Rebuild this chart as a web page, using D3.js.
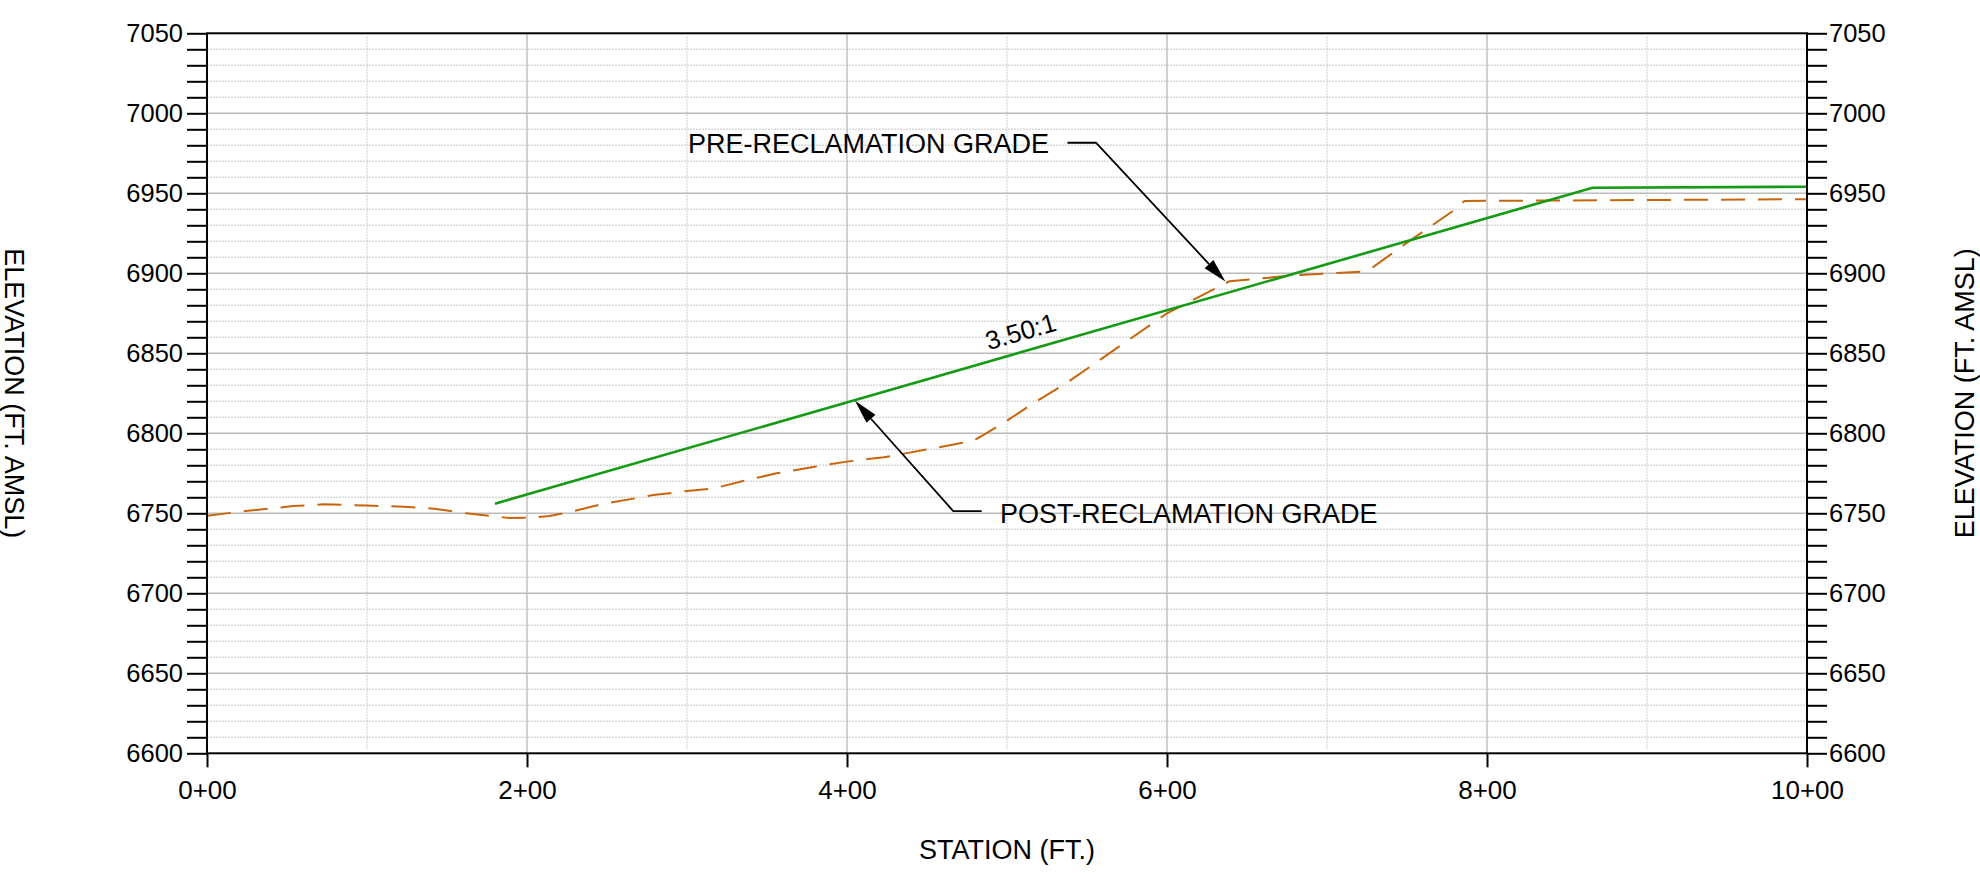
<!DOCTYPE html>
<html><head><meta charset="utf-8">
<script src="https://cdn.jsdelivr.net/npm/d3@7"></script>
<style>
body{margin:0;background:#fff}
svg{display:block;background:#fff}
text{font-family:"Liberation Sans",Arial,Helvetica,sans-serif;fill:#000}
</style>
</head><body>
<svg id="chart" width="1980" height="873"></svg>
<script>
// ---------- data ----------
const stationDomain = [0, 1000];
const elevDomain = [6600, 7050];
const stationTicks = [0, 200, 400, 600, 800, 1000];
const elevLabelTicks = [6600, 6650, 6700, 6750, 6800, 6850, 6900, 6950, 7000, 7050];
const elevMinorStep = 10;
const stationGridStep = 100;

// Pre-reclamation (existing) grade - dashed orange
const preStation = [0, 27, 54, 73, 100, 123, 142, 162, 189, 204, 214, 225, 246, 279, 300, 317, 335, 356, 379, 400, 423, 454, 479, 487, 500, 518, 538, 600, 639, 683, 721, 729, 748, 778, 786, 1000];
const preElev    = [6748.5, 6751.7, 6754.5, 6755.6, 6754.8, 6754.1, 6752.9, 6750, 6747.1, 6747.3, 6748.3, 6750.4, 6755.5, 6761.4, 6763.9, 6765.6, 6770.2, 6775, 6779, 6782.3, 6785, 6790.6, 6795.4, 6800, 6807.9, 6819.8, 6832, 6875, 6895, 6899, 6901, 6904, 6917.7, 6938.5, 6945.2, 6946.3];

// Post-reclamation grade - solid green
const postStation = [180, 866, 1000];
const postElev    = [6756, 6953.5, 6954.1];

// Annotations (station, elevation anchors)
const annoLabels   = ["PRE-RECLAMATION GRADE", "POST-RECLAMATION GRADE"];
const annoTextPos  = [[300.6, 6975.4], [495.6, 6743.9]];
const annoLeaders  = [
  [[537.8, 6981.6], [555.6, 6981.6], [636.5, 6894.8]],
  [[484.2, 6751.4], [466.4, 6751.4], [405, 6820.3]]
];
const slopeLabel = "3.50:1";
const slopeLabelStation = 512;

const xTitle = "STATION (FT.)";
const yTitle = "ELEVATION (FT. AMSL)";

// ---------- chart ----------
const svg = d3.select("#chart");
const x = d3.scaleLinear().domain(stationDomain).range([207, 1807]);
const y = d3.scaleLinear().domain(elevDomain).range([753.3, 33.3]);
const [x0, x1] = x.range();
const [yb, yt] = y.range();

const fmtStation = d => Math.floor(d / 100) + "+" + String(d % 100).padStart(2, "0");

// grid
const grid = svg.append("g");
const minorElev = d3.range(elevDomain[0], elevDomain[1] + 0.1, elevMinorStep);
grid.selectAll("line.hminor").data(minorElev.filter(v => v % 50 !== 0)).join("line")
  .attr("x1", x0).attr("x2", x1).attr("y1", d => y(d)).attr("y2", d => y(d))
  .attr("stroke", "#d8d8d8").attr("stroke-width", 1.4).attr("stroke-dasharray", "2,1");
const vGrid = d3.range(stationDomain[0] + stationGridStep, stationDomain[1], stationGridStep);
grid.selectAll("line.vminor").data(vGrid.filter(v => v % 200 !== 0)).join("line")
  .attr("x1", d => x(d)).attr("x2", d => x(d)).attr("y1", yt + 3).attr("y2", yb - 3)
  .attr("stroke", "#dadada").attr("stroke-width", 1.4).attr("stroke-dasharray", "2,1");
grid.selectAll("line.hmajor").data(elevLabelTicks.filter(v => v > elevDomain[0] && v < elevDomain[1])).join("line")
  .attr("x1", x0).attr("x2", x1).attr("y1", d => y(d)).attr("y2", d => y(d))
  .attr("stroke", "#bcbcbc").attr("stroke-width", 1.4);
grid.selectAll("line.vmajor").data(vGrid.filter(v => v % 200 === 0)).join("line")
  .attr("x1", d => x(d)).attr("x2", d => x(d)).attr("y1", yt).attr("y2", yb)
  .attr("stroke", "#bcbcbc").attr("stroke-width", 1.4);

// lines
const line = d3.line().x(d => x(d[0])).y(d => y(d[1]));
svg.append("path").datum(preStation.map((s, i) => [s, preElev[i]]))
  .attr("d", line).attr("fill", "none").attr("stroke", "#c8650c")
  .attr("stroke-width", 2).attr("stroke-dasharray", "24,13");
svg.append("path").datum(postStation.map((s, i) => [s, postElev[i]]))
  .attr("d", line).attr("fill", "none").attr("stroke", "#149a14")
  .attr("stroke-width", 2.6);

// axes
const allElevTicks = minorElev;
const styleAxis = g => {
  g.select(".domain").remove();
  g.selectAll(".tick line").attr("stroke", "#000").attr("stroke-width", 2);
  g.selectAll(".tick text").style("font-family", '"Liberation Sans", Arial, sans-serif').attr("fill", "#000");
};
svg.append("g").attr("transform", `translate(${x0},0)`)
  .call(d3.axisLeft(y).tickValues(allElevTicks).tickSize(20).tickPadding(4)
    .tickFormat(d => (d % 50 === 0 ? d : "")))
  .call(styleAxis).call(g => g.selectAll("text").style("font-size", "25.5px"));
svg.append("g").attr("transform", `translate(${x1},0)`)
  .call(d3.axisRight(y).tickValues(allElevTicks).tickSize(20).tickPadding(2)
    .tickFormat(d => (d % 50 === 0 ? d : "")))
  .call(styleAxis).call(g => g.selectAll("text").style("font-size", "25.5px"));
svg.append("g").attr("transform", `translate(0,${yb})`)
  .call(d3.axisBottom(x).tickValues(stationTicks).tickSize(14).tickPadding(13.5).tickFormat(fmtStation))
  .call(styleAxis).call(g => g.selectAll("text").style("font-size", "26px"));

// frame
svg.append("rect").attr("x", x0).attr("y", yt).attr("width", x1 - x0).attr("height", yb - yt)
  .attr("fill", "none").attr("stroke", "#000").attr("stroke-width", 2);

// titles
svg.append("text").attr("x", (x0 + x1) / 2).attr("y", 859).attr("text-anchor", "middle")
  .style("font-size", "27px").text(xTitle);
svg.append("text").attr("transform", `translate(14,${(yt + yb) / 2}) rotate(90)`)
  .attr("text-anchor", "middle").attr("dy", "0.35em").style("font-size", "27px").text(yTitle);
svg.append("text").attr("transform", `translate(1965,${(yt + yb) / 2}) rotate(-90)`)
  .attr("text-anchor", "middle").attr("dy", "0.35em").style("font-size", "27px").text(yTitle);

// slope label
{
  const p0 = [x(postStation[0]), y(postElev[0])], p1 = [x(postStation[1]), y(postElev[1])];
  const ang = Math.atan2(p1[1] - p0[1], p1[0] - p0[0]);
  const t = (slopeLabelStation - postStation[0]) / (postStation[1] - postStation[0]);
  const px = p0[0] + t * (p1[0] - p0[0]), py = p0[1] + t * (p1[1] - p0[1]);
  const off = 11;
  const nx = Math.sin(ang) * off, ny = -Math.cos(ang) * off;
  svg.append("text")
    .attr("transform", `translate(${px + nx},${py + ny}) rotate(${ang * 180 / Math.PI})`)
    .attr("text-anchor", "middle").style("font-size", "26px").text(slopeLabel);
}

// annotations
annoLabels.forEach((lab, i) => {
  svg.append("text").attr("x", x(annoTextPos[i][0])).attr("y", y(annoTextPos[i][1]))
    .style("font-size", "27px").text(lab);
  const pts = annoLeaders[i].map(p => [x(p[0]), y(p[1])]);
  const n = pts.length;
  const tip = pts[n - 1], prev = pts[n - 2];
  const a = Math.atan2(tip[1] - prev[1], tip[0] - prev[0]);
  const L = 24, W = 6;
  const bx = tip[0] - L * Math.cos(a), by = tip[1] - L * Math.sin(a);
  const linePts = pts.slice(0, n - 1).concat([[bx, by]]);
  svg.append("path").attr("d", d3.line()(linePts)).attr("fill", "none")
    .attr("stroke", "#000").attr("stroke-width", 1.8);
  const tri = [tip, [bx + W * Math.sin(a), by - W * Math.cos(a)], [bx - W * Math.sin(a), by + W * Math.cos(a)]];
  svg.append("path").attr("d", d3.line()(tri) + "Z").attr("fill", "#000");
});
</script>
</body></html>
